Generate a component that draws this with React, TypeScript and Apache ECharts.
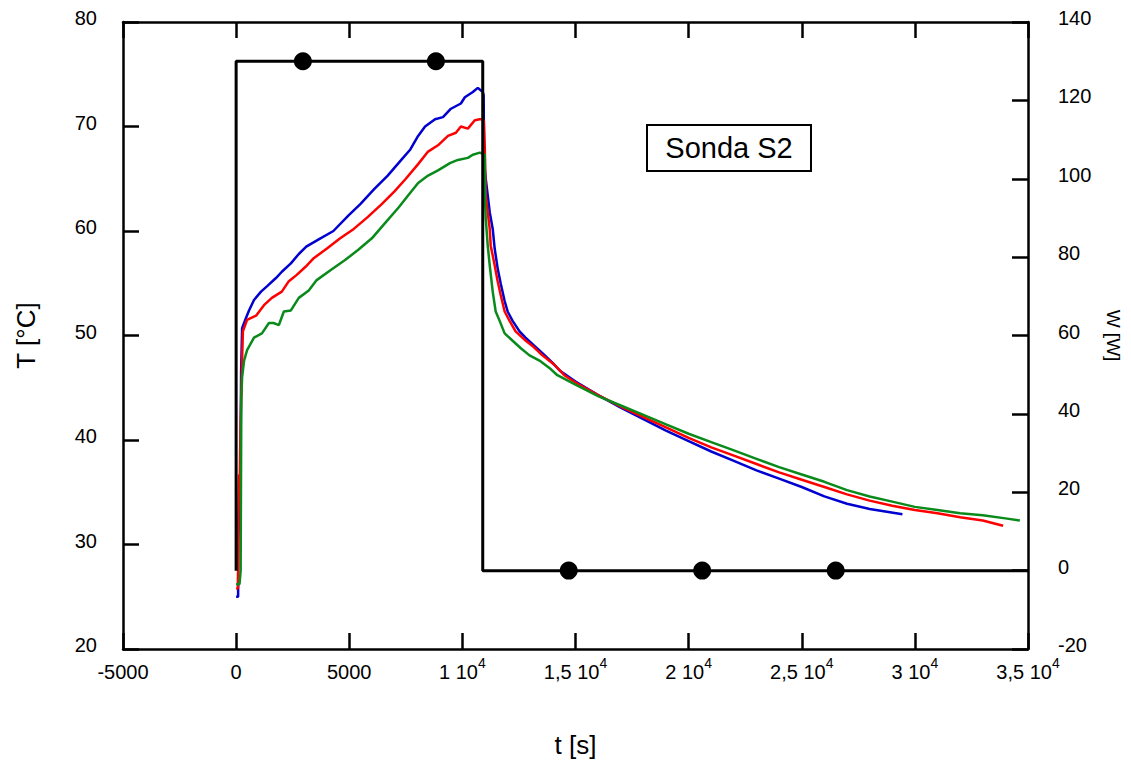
import React, { useEffect, useRef } from "react";
import * as echarts from "echarts";

const FONT = "'Liberation Sans', Arial, Helvetica, sans-serif";

// Temperature sensors (t [s], T [°C])
const blueSeries: [number, number][] = [
  [0, 25.0], [88, 25.0], [100, 30.5], [150, 34.0], [190, 36.5], [220, 46.5], [264, 50.7],
  [440, 51.7], [570, 52.4], [790, 53.4], [1100, 54.2], [1360, 54.7], [1760, 55.5], [2020, 56.1],
  [2420, 56.9], [2770, 57.8], [3100, 58.5], [3650, 59.2], [4300, 60.0], [4970, 61.5], [5500, 62.6],
  [6100, 64.0], [6700, 65.3], [7300, 66.8], [7700, 67.8], [8044, 69.1], [8352, 70.0], [8791, 70.7],
  [9143, 70.9], [9495, 71.7], [9934, 72.2], [10110, 72.8], [10462, 73.3], [10682, 73.7], [10900, 73.3],
  [10940, 73.0], [10960, 66.6], [11033, 65.0], [11209, 61.8], [11341, 60.2], [11429, 58.3],
  [11560, 56.4], [11692, 55.0], [11868, 53.3], [12000, 52.3], [12220, 51.4], [12527, 50.4],
  [12791, 49.8], [13187, 49.0], [13538, 48.3], [13978, 47.4], [14330, 46.6], [15000, 45.6],
  [16000, 44.3], [17000, 43.1], [18000, 42.0], [19000, 40.9], [20000, 39.9], [21000, 38.9],
  [22000, 38.0], [23000, 37.1], [24000, 36.3], [25000, 35.5], [26000, 34.6], [27000, 33.9],
  [28000, 33.4], [29450, 32.9],
];
const redSeries: [number, number][] = [
  [0, 25.8], [80, 25.8], [100, 33.0], [130, 36.7], [150, 35.0], [200, 42.0], [264, 47.6],
  [300, 50.4], [484, 51.5], [880, 51.9], [1230, 52.9], [1580, 53.6], [2020, 54.2], [2330, 55.2],
  [2680, 55.8], [3080, 56.6], [3430, 57.4], [4000, 58.3], [4600, 59.3], [5200, 60.2], [5800, 61.3],
  [6400, 62.5], [7000, 63.8], [7500, 65.0], [8044, 66.4], [8484, 67.6], [8923, 68.2], [9363, 69.1],
  [9714, 69.4], [9934, 70.0], [10242, 69.8], [10550, 70.6], [10770, 70.7], [10900, 70.7],
  [10950, 70.5], [10990, 68.0], [11033, 63.4], [11209, 60.2], [11253, 58.6], [11429, 56.7],
  [11560, 55.2], [11692, 53.9], [11868, 52.3], [12088, 51.4], [12352, 50.4], [12747, 49.6],
  [13099, 49.0], [13538, 48.1], [14066, 47.2], [14505, 46.2], [15000, 45.5], [16000, 44.3],
  [17000, 43.2], [18000, 42.2], [19000, 41.2], [20000, 40.2], [21000, 39.3], [22000, 38.5],
  [23000, 37.7], [24000, 36.9], [25000, 36.2], [26000, 35.5], [27000, 34.8], [28000, 34.2],
  [29000, 33.7], [30000, 33.3], [31000, 33.0], [32000, 32.6], [33000, 32.3], [33900, 31.8],
];
const greenSeries: [number, number][] = [
  [0, 26.2], [150, 26.2], [200, 27.5], [230, 44.0], [264, 46.0], [352, 47.6], [484, 48.6],
  [790, 49.8], [1140, 50.2], [1450, 51.2], [1650, 51.2], [1890, 51.0], [2110, 52.3], [2420, 52.4],
  [2770, 53.6], [3210, 54.3], [3560, 55.3], [4200, 56.3], [4800, 57.2], [5400, 58.2], [6000, 59.3],
  [6600, 60.8], [7200, 62.3], [7600, 63.4], [8044, 64.6], [8484, 65.3], [8923, 65.8], [9451, 66.5],
  [9802, 66.8], [10242, 67.0], [10462, 67.3], [10770, 67.5], [10990, 67.3], [11000, 63.1],
  [11033, 61.2], [11121, 58.6], [11209, 56.7], [11341, 54.2], [11472, 52.3], [11648, 51.4],
  [11868, 50.2], [12220, 49.5], [12571, 48.8], [12967, 48.1], [13407, 47.6], [13846, 46.9],
  [14198, 46.2], [15000, 45.3], [16000, 44.2], [17000, 43.3], [18000, 42.4], [19000, 41.5],
  [20000, 40.6], [21000, 39.8], [22000, 39.0], [23000, 38.2], [24000, 37.4], [25000, 36.7],
  [26000, 36.0], [27000, 35.2], [28000, 34.6], [29000, 34.1], [30000, 33.6], [31000, 33.3],
  [32000, 33.0], [33000, 32.8], [34000, 32.5], [34640, 32.3],
];

// Power W [W]
const powerSeries: [number, number][] = [
  [0, 0], [0, 130], [10900, 130], [10900, 0], [35000, 0],
];
const powerMarkers: [number, number][] = [
  [2950, 130], [8830, 130], [14700, 0], [20600, 0], [26500, 0],
];

const xTicks = { min: -5000, max: 35000, interval: 5000 };
const yLeftTicks = { min: 20, max: 80, interval: 10 };
const yRightTicks = { min: -20, max: 140, interval: 20 };

const boxLabel = "Sonda S2";

function xLabel(v: number): string {
  if (Math.abs(v) < 10000) return `{n|${v}}`;
  const m = String(v / 10000).replace(".", ",");
  return `{n|${m} 10}{s|4}`;
}

export default function App() {
  const ref = useRef<HTMLDivElement>(null);
  useEffect(() => {
    if (!ref.current) return;
    const chart = echarts.init(ref.current, undefined, { renderer: "svg" });
    const axisLine = { show: true, onZero: false, lineStyle: { color: "#000", width: 2.5 } };
    const axisTick = { show: true, inside: true, length: 16, lineStyle: { color: "#000", width: 2.5 } };
    const yLabel = {
      fontSize: 20,
      fontFamily: FONT,
      color: "#000",
      verticalAlign: "bottom",
      lineHeight: 8,
    };
    const lineSeries = (data: [number, number][], color: string, name: string) => ({
      type: "line",
      name,
      data,
      xAxisIndex: 0,
      yAxisIndex: 0,
      showSymbol: false,
      symbol: "none",
      lineStyle: { color, width: 2.5 },
      z: 2,
    });
    chart.setOption({
      animation: false,
      backgroundColor: "#fff",
      grid: { left: 123, right: 98, top: 22, bottom: 110 },
      xAxis: [
        {
          type: "value",
          position: "bottom",
          ...xTicks,
          axisLine,
          axisTick,
          splitLine: { show: false },
          axisLabel: {
            margin: 7,
            formatter: xLabel,
            rich: {
              n: { fontSize: 20, fontFamily: FONT, color: "#000", padding: [6, 0, 0, 0], verticalAlign: "bottom" },
              s: { fontSize: 14, fontFamily: FONT, color: "#000", verticalAlign: "top" },
            },
          },
          name: "t [s]",
          nameLocation: "middle",
          nameGap: 83,
          nameTextStyle: { fontSize: 26, fontFamily: FONT, color: "#000" },
        },
        {
          type: "value",
          position: "top",
          ...xTicks,
          axisLine,
          axisTick,
          axisLabel: { show: false },
          splitLine: { show: false },
        },
      ],
      yAxis: [
        {
          type: "value",
          position: "left",
          ...yLeftTicks,
          axisLine,
          axisTick,
          splitLine: { show: false },
          axisLabel: { margin: 26, ...yLabel },
          name: "T [°C]",
          nameLocation: "middle",
          nameGap: 84,
          nameTextStyle: { fontSize: 26, fontFamily: FONT, color: "#000" },
        },
        {
          type: "value",
          position: "right",
          ...yRightTicks,
          axisLine,
          axisTick,
          splitLine: { show: false },
          axisLabel: { margin: 30, ...yLabel },
          name: "W [W]",
          nameLocation: "middle",
          nameRotate: -90,
          nameGap: 76,
          nameTextStyle: { fontSize: 19, fontFamily: FONT, color: "#000" },
        },
      ],
      series: [
        lineSeries(blueSeries, "#0000d0", "blue"),
        lineSeries(redSeries, "#ff0000", "red"),
        lineSeries(greenSeries, "#0a8a1a", "green"),
        {
          type: "line",
          name: "power",
          data: powerSeries,
          xAxisIndex: 0,
          yAxisIndex: 1,
          showSymbol: false,
          symbol: "none",
          lineStyle: { color: "#000", width: 3 },
          z: 3,
        },
        {
          type: "scatter",
          name: "markers",
          data: powerMarkers,
          xAxisIndex: 0,
          yAxisIndex: 1,
          symbol: "circle",
          symbolSize: 18,
          itemStyle: { color: "#000", opacity: 1 },
          z: 4,
        },
      ],
      graphic: [
        {
          type: "group",
          children: [
            {
              type: "rect",
              shape: { x: 647, y: 125, width: 164, height: 46 },
              style: { fill: "#fff", stroke: "#000", lineWidth: 2 },
            },
            {
              type: "text",
              x: 729,
              y: 148,
              style: {
                text: boxLabel,
                fontSize: 29,
                fontFamily: FONT,
                fill: "#000",
                align: "center",
                verticalAlign: "middle",
              },
            },
          ],
        },
      ],
    });
    return () => chart.dispose();
  }, []);
  return (
    <div
      ref={ref}
      style={{ position: "absolute", left: 0, top: 0, width: 1131, height: 763, background: "#fff" }}
    />
  );
}
